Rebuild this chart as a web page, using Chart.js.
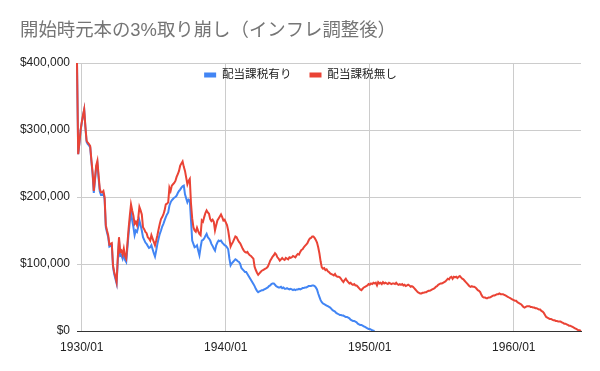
<!DOCTYPE html>
<html>
<head>
<meta charset="utf-8">
<script src="https://cdn.jsdelivr.net/npm/chart.js@4"></script>
<style>
html,body{margin:0;padding:0;background:#fff;}
#wrap{width:600px;height:371px;}
</style>
</head>
<body>
<div id="wrap"><canvas id="c" width="600" height="371"></canvas></div>
<script>
// ---- data ----
const START_YEAR = 1929;
const START_MONTH = 9;
const seriesNames = ['配当課税有り', '配当課税無し'];
const chartTitle = '開始時元本の3%取り崩し（インフレ調整後）';
const xTickLabels = ['1930/01', '1940/01', '1950/01', '1960/01'];
const yTickValues = [0, 100000, 200000, 300000, 400000];

// 配当課税有り (monthly, from 1929/09)
const taxedValues = [
  400000,264000,280000,299000,311000,321000,330000,304000,282000,279000,
  277000,274000,253000,234000,206000,225000,244000,250000,228000,208000,
  203000,203000,205000,197000,155000,147000,140000,126000,127000,128000,
  96000,85000,78000,71000,105000,135000,112000,113000,108000,116000,
  106000,103000,124000,145000,163000,178000,165000,155000,143000,150000,
  148000,155000,165000,158000,150000,140000,136000,132000,130000,127000,
  124000,125000,128000,122000,116000,111000,120000,130000,138000,145000,
  150000,156000,160000,165000,170000,174000,177000,187000,192000,195000,
  197000,199000,200000,202000,206000,209000,211000,214000,216000,217000,
  204000,198000,192000,196000,195000,165000,135000,130000,125000,126000,
  128000,120000,113000,125000,135000,136000,138000,142000,145000,140000,
  138000,135000,130000,127000,123000,120000,128000,132000,135000,134000,
  135000,132000,130000,128000,127000,125000,122000,108000,98000,101000,
  103000,105000,107000,106000,104000,103000,100000,94000,92000,90000,
  88000,88000,85000,82000,79000,76000,73000,70000,67000,63000,
  60000,58000,59000,60000,61000,61000,62000,63000,64000,65000,
  67000,68000,70000,71000,71000,69000,67000,66000,65000,65000,
  66000,64000,65000,63000,63000,64000,63000,62000,63000,62000,
  61000,62000,61000,62000,62000,63000,62000,63000,64000,64000,
  65000,65000,66000,67000,67000,67000,68000,68000,67000,65000,
  62000,56000,51000,46000,43000,41000,40000,39000,38000,37000,
  36000,35000,33000,31000,30000,29000,27000,26000,25000,24000,
  24000,23000,23000,22000,21000,21000,20000,19000,17000,16000,
  15000,15000,14000,13000,11000,10000,9000,9000,8000,7000,
  6000,5000,4000,3000,3000,2000,1000,500,0
];

// 配当課税無し (monthly, from 1929/09)
const untaxedValues = [
  400000,264000,281000,300000,312000,322000,331000,305000,284000,281000,
  279000,276000,255000,237000,209000,228000,247000,254000,232000,212000,
  207000,207000,209000,200000,158000,150000,143000,129000,130000,131000,
  98000,88000,81000,73000,110000,140000,118000,120000,114000,123000,
  112000,108000,130000,153000,172000,189000,180000,172000,160000,163000,
  158000,168000,185000,180000,174000,155000,152000,148000,146000,140000,
  138000,135000,143000,138000,133000,128000,135000,143000,152000,160000,
  167000,170000,174000,180000,189000,190000,192000,214000,209000,217000,
  219000,221000,224000,230000,234000,239000,247000,250000,253000,245000,
  239000,229000,219000,224000,227000,190000,168000,155000,150000,148000,
  154000,149000,145000,143000,165000,163000,170000,176000,180000,177000,
  175000,167000,164000,166000,163000,150000,158000,165000,168000,171000,
  174000,170000,165000,166000,162000,158000,150000,138000,126000,130000,
  133000,137000,141000,140000,136000,133000,131000,127000,123000,120000,
  118000,117000,118000,115000,113000,112000,110000,108000,96000,91000,
  87000,84000,86000,88000,90000,91000,92000,93000,94000,96000,
  100000,105000,108000,111000,113000,116000,114000,110000,108000,105000,
  107000,109000,107000,106000,109000,108000,107000,110000,109000,110000,
  112000,111000,110000,113000,115000,114000,118000,121000,122000,125000,
  127000,129000,131000,135000,138000,139000,141000,141000,139000,136000,
  132000,125000,116000,104000,95000,93000,94000,91000,92000,89000,
  88000,86000,85000,84000,83000,85000,82000,81000,81000,80000,
  78000,75000,73000,76000,78000,75000,73000,71000,72000,70000,
  69000,70000,68000,68000,66000,64000,62000,61000,63000,65000,
  66000,67000,68000,70000,69000,71000,70000,72000,71000,72000,
  68000,73000,71000,72000,70000,73000,71000,72000,71000,70000,
  72000,71000,70000,71000,71000,70000,72000,70000,69000,70000,
  69000,70000,68000,69000,67000,68000,69000,68000,66000,67000,
  66000,64000,62000,60000,58000,57000,56000,56000,57000,57000,
  58000,58000,59000,60000,60000,61000,62000,63000,64000,66000,
  67000,69000,70000,71000,71000,72000,73000,74000,76000,78000,
  77000,80000,81000,78000,81000,80000,81000,79000,81000,82000,
  80000,78000,77000,75000,73000,71000,69000,67000,66000,67000,
  66000,66000,65000,63000,61000,60000,58000,54000,51000,50000,
  50000,49000,49000,50000,50000,51000,52000,53000,53000,54000,
  55000,55000,56000,55000,55000,55000,54000,53000,52000,51000,
  50000,49000,48000,47000,46000,45000,45000,43000,42000,41000,
  40000,38000,36000,35000,36000,37000,37000,37000,36000,36000,
  35000,35000,34000,34000,33000,32000,32000,30000,29000,27000,
  24000,21000,20000,19000,18000,18000,17000,16000,16000,15000,
  15000,14000,14000,14000,13000,12000,11000,11000,10000,9000,
  8000,8000,7000,6000,5000,4000,3000,2000,1000,1000,
  0
];

// month categories "YYYY/MM"
const months = [];
for (let i = 0; i < untaxedValues.length; i++) {
  const m = START_MONTH - 1 + i;
  const y = START_YEAR + Math.floor(m / 12);
  months.push(y + '/' + String(m % 12 + 1).padStart(2, '0'));
}

// ---- chart ----
const FONT = "'Liberation Sans', Arial, 'Noto Sans CJK JP', sans-serif";
Chart.defaults.font.family = FONT;

const LEGEND_CENTER_Y = 75;
const legendInside = {
  id: 'legendInside',
  afterInit(chart) {
    const lg = chart.legend;
    if (!lg) return;
    const fit = lg.fit;
    lg.fit = function () { fit.call(this); this._fullH = this.height; this.height = 0; };
  },
  afterLayout(chart) {
    const lg = chart.legend;
    if (!lg) return;
    const pad = lg.options.labels.padding;
    const fs = lg.options.labels.font.size;
    lg.top = LEGEND_CENTER_Y - pad - fs / 2;
    lg.height = lg._fullH || 0;
    lg.bottom = lg.top + lg.height;
  }
};

new Chart(document.getElementById('c'), {
  type: 'line',
  data: {
    labels: months,
    datasets: [
      { label: seriesNames[0], data: taxedValues, borderColor: '#4285F4', backgroundColor: '#4285F4',
        borderWidth: 2, pointRadius: 0, tension: 0, order: 1 },
      { label: seriesNames[1], data: untaxedValues, borderColor: '#EA4335', backgroundColor: '#EA4335',
        borderWidth: 2, pointRadius: 0, tension: 0, order: 0 }
    ]
  },
  options: {
    responsive: false,
    animation: false,
    devicePixelRatio: 1,
    layout: { padding: { left: 20, right: 19, top: 0, bottom: 0 } },
    plugins: {
      title: {
        display: true, text: chartTitle, align: 'start', color: '#757575',
        font: { family: FONT, size: 18.4, weight: 'normal' },
        padding: { top: 20, bottom: 20.92 }
      },
      legend: {
        display: true, position: 'top', align: 'center',
        labels: {
          boxWidth: 12, boxHeight: 5, padding: 18, color: '#222222',
          font: { family: FONT, size: 11.6 },
          sort: (a, b) => a.datasetIndex - b.datasetIndex,
          generateLabels: chart => Chart.defaults.plugins.legend.labels.generateLabels(chart)
            .map(it => Object.assign(it, { lineWidth: 0, strokeStyle: 'rgba(0,0,0,0)' }))
        }
      },
      tooltip: { enabled: false }
    },
    scales: {
      x: {
        type: 'category',
        grid: { drawTicks: false, color: '#cccccc', lineWidth: 1 },
        border: { display: true, color: '#333333', width: 1 },
        ticks: { autoSkip: false, maxRotation: 0, minRotation: 0, padding: 9, color: '#222222',
                 font: { family: FONT, size: 12 } },
        afterBuildTicks(axis) {
          axis.ticks = xTickLabels.map(l => ({ value: months.indexOf(l) }));
        },
        afterFit(s) { s.height = 40; }
      },
      y: {
        min: 0, max: 400000,
        grid: { drawTicks: false, color: ctx => (ctx.tick && ctx.tick.value === 0) ? '#333333' : '#cccccc' },
        border: { display: false },
        ticks: { padding: 7, color: '#222222', font: { family: FONT, size: 12 },
                 callback: v => '$' + Number(v).toLocaleString('en-US') },
        afterBuildTicks(axis) { axis.ticks = yTickValues.map(v => ({ value: v })); },
        afterFit(s) { s.width = 57; }
      }
    }
  },
  plugins: [legendInside]
});
</script>
</body>
</html>
